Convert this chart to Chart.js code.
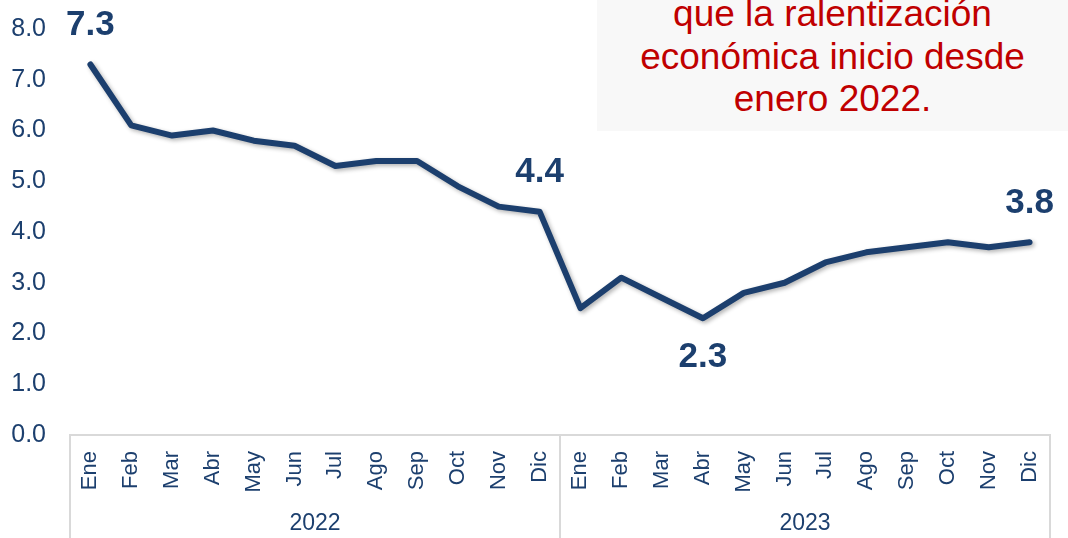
<!DOCTYPE html>
<html>
<head>
<meta charset="utf-8">
<script src="https://cdn.jsdelivr.net/npm/chart.js@4.4.1/dist/chart.umd.min.js"></script>
<style>
  html, body { margin: 0; padding: 0; background: #fff; }
  #wrap { position: relative; width: 1068px; height: 538px; overflow: hidden; }
  #note {
    position: absolute; left: 597px; top: 0; width: 471px; height: 131px;
    background: #f8f8f8;
  }
  #note div {
    position: absolute; left: 0; width: 100%; text-align: center;
    font-family: "Liberation Sans", Arial, sans-serif; font-size: 37px;
    color: #c00000; line-height: 1;
  }
  canvas { position: absolute; left: 0; top: 0; }
</style>
</head>
<body>
<div id="wrap">
  <div id="note">
    <div style="top:-5px">que la ralentización</div>
    <div style="top:38px">económica inicio desde</div>
    <div style="top:80px">enero 2022.</div>
  </div>
  <canvas id="c" width="1068" height="538"></canvas>
</div>
<script>
// data
const months = ['Ene','Feb','Mar','Abr','May','Jun','Jul','Ago','Sep','Oct','Nov','Dic',
                'Ene','Feb','Mar','Abr','May','Jun','Jul','Ago','Sep','Oct','Nov','Dic'];
const years = ['2022', '2023'];
const values = [7.3, 6.1, 5.9, 6.0, 5.8, 5.7, 5.3, 5.4, 5.4, 4.9, 4.5, 4.4,
                2.5, 3.1, 2.7, 2.3, 2.8, 3.0, 3.4, 3.6, 3.7, 3.8, 3.7, 3.8];
const yTicks = [0, 1, 2, 3, 4, 5, 6, 7, 8];
// which points get a big label, and whether it goes above (-1) or below (1)
const labeled = {0: -1, 11: -1, 15: 1, 23: -1};

const navy = '#1c3f6e';
const FONT = '"Liberation Sans", Arial, sans-serif';

const shadowPlugin = {
  id: 'shadow',
  beforeDatasetDraw(chart) {
    const ctx = chart.ctx;
    ctx.save();
    ctx.shadowColor = 'rgba(0,0,0,0.3)';
    ctx.shadowBlur = 4;
    ctx.shadowOffsetX = 2;
    ctx.shadowOffsetY = 2;
  },
  afterDatasetDraw(chart) {
    chart.ctx.restore();
  }
};

const extrasPlugin = {
  id: 'extras',
  afterDraw(chart) {
    const ctx = chart.ctx;
    const x = chart.scales.x;
    const area = chart.chartArea;
    const step = x.getPixelForValue(1) - x.getPixelForValue(0);

    // year group lines + labels
    ctx.save();
    ctx.strokeStyle = '#d9d9d9';
    ctx.lineWidth = 2;
    [0, 12, 24].forEach(i => {
      const px = Math.round(x.getPixelForValue(i) - step / 2);
      ctx.beginPath();
      ctx.moveTo(px, area.bottom);
      ctx.lineTo(px, chart.height);
      ctx.stroke();
    });
    ctx.fillStyle = navy;
    ctx.font = '23px ' + FONT;
    ctx.textAlign = 'center';
    ctx.textBaseline = 'middle';
    years.forEach((yr, k) => {
      const cx = (x.getPixelForValue(k * 12) + x.getPixelForValue(k * 12 + 11)) / 2;
      ctx.fillText(yr, cx, 524);
    });

    // big value labels
    const meta = chart.getDatasetMeta(0);
    ctx.font = 'bold 35px ' + FONT;
    Object.keys(labeled).forEach(k => {
      const pt = meta.data[k];
      const dir = labeled[k];
      ctx.fillText(values[k].toFixed(1), pt.x, pt.y + dir * 39);
    });
    ctx.restore();
  }
};

new Chart(document.getElementById('c'), {
  type: 'line',
  data: {
    labels: months,
    datasets: [{
      data: values,
      borderColor: navy,
      borderWidth: 6,
      borderJoinStyle: 'round',
      borderCapStyle: 'round',
      pointRadius: 0,
      tension: 0
    }]
  },
  options: {
    responsive: false,
    animation: false,
    layout: { padding: { top: 29, right: 18, left: 0, bottom: 0 } },
    plugins: { legend: { display: false }, tooltip: { enabled: false } },
    scales: {
      x: {
        offset: true,
        grid: { display: false, drawTicks: false },
        border: { color: '#d9d9d9', width: 2 },
        ticks: {
          autoSkip: false, minRotation: 90, maxRotation: 90, padding: 16,
          color: navy, font: { family: FONT, size: 22 }
        },
        afterFit(scale) {
          scale.height = 103;
          scale.paddingLeft = 0;
          scale.paddingRight = 0;
        }
      },
      y: {
        min: 0, max: 8,
        afterBuildTicks(scale) { scale.ticks = yTicks.map(v => ({ value: v })); },
        grid: { display: false, drawTicks: false },
        border: { display: false },
        ticks: {
          padding: 24, color: navy, font: { family: FONT, size: 25 },
          callback: v => v.toFixed(1)
        },
        afterFit(scale) {
          scale.width = 70;
          scale.paddingTop = 0;
          scale.paddingBottom = 0;
        }
      }
    }
  },
  plugins: [shadowPlugin, extrasPlugin]
});
</script>
</body>
</html>
